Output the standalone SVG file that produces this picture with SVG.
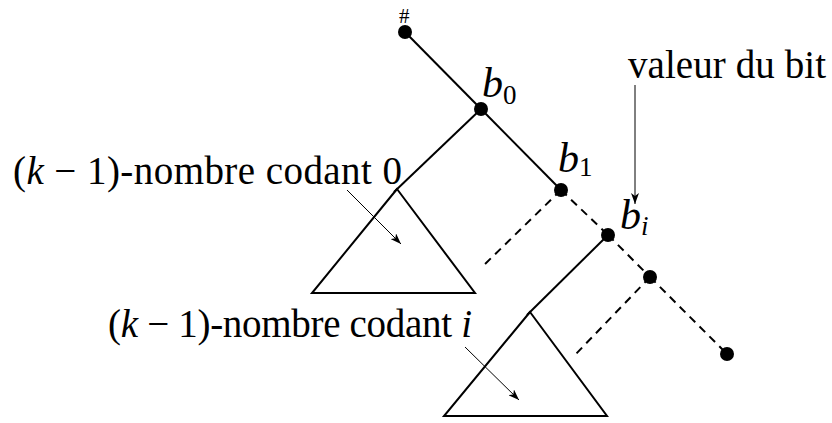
<svg xmlns="http://www.w3.org/2000/svg" width="832" height="423" viewBox="0 0 832 423">
<style>
.e{stroke:#000;stroke-width:2;fill:none}
.d{stroke:#000;stroke-width:2;fill:none;stroke-dasharray:8 6}
.a{stroke:#000;stroke-width:1;fill:none;marker-end:url(#ah)}
.n{fill:#000}
.t{font-family:"Liberation Serif",serif;font-size:39px;fill:#000}
.m{font-style:italic}
.s{font-size:27px}
</style>
<defs>
<marker id="ah" markerUnits="userSpaceOnUse" markerWidth="12" markerHeight="8" refX="11" refY="4" orient="auto">
<path d="M0,0 L11,4 L0,8 L3,4 z" fill="#000"/>
</marker>
</defs>
<rect width="832" height="423" fill="#fff"/>
<g id="connectors">
<line class="e" x1="405" y1="32" x2="481" y2="109"/>
<line class="e" x1="481" y1="109" x2="561" y2="190"/>
<line class="e" x1="481" y1="109" x2="394" y2="192"/>
<line class="d" x1="561" y1="190" x2="608" y2="235"/>
<line class="d" x1="608" y1="235" x2="650" y2="277"/>
<line class="d" x1="650" y1="277" x2="727" y2="354"/>
<line class="d" x1="561" y1="190" x2="484" y2="265"/>
<line class="e" x1="608" y1="235" x2="527" y2="315"/>
<line class="d" x1="650" y1="277" x2="575" y2="355"/>
<line class="a" x1="635" y1="85" x2="635" y2="204"/>
<line class="a" x1="347" y1="190" x2="401" y2="244"/>
<line class="a" x1="465" y1="347" x2="519" y2="400"/>
</g>
<g id="tri0"><path class="e" d="M397,189 L312,293 L475,293 Z"/></g>
<g id="tri1"><path class="e" d="M530,312 L444,416 L607,416 Z"/></g>
<g id="root"><circle class="n" cx="405" cy="32" r="7"/><text class="t" x="399" y="23" style="font-size:21px">#</text></g>
<g id="b0"><circle class="n" cx="481" cy="109" r="7"/><text class="t" x="482" y="97" style="font-size:42px"><tspan class="m">b</tspan><tspan class="s" dy="7">0</tspan></text></g>
<g id="b1"><circle class="n" cx="561" cy="190" r="7"/><text class="t" x="558" y="172" style="font-size:42px"><tspan class="m">b</tspan><tspan class="s" dy="4">1</tspan></text></g>
<g id="bi"><circle class="n" cx="608" cy="235" r="7"/><text class="t" x="620" y="229" style="font-size:42px"><tspan class="m">b</tspan><tspan class="s m" dy="6">i</tspan></text></g>
<g id="n4"><circle class="n" cx="650" cy="277" r="7"/></g>
<g id="n5"><circle class="n" cx="727" cy="354" r="7"/></g>
<g id="lbl-bit"><text class="t" x="628" y="78" textLength="198">valeur du bit</text></g>
<g id="lbl-0"><text class="t" x="13" y="184" textLength="389">(<tspan class="m">k</tspan> − 1)-nombre codant 0</text></g>
<g id="lbl-i"><text class="t" x="108" y="337" textLength="364">(<tspan class="m">k</tspan> − 1)-nombre codant <tspan class="m">i</tspan></text></g>
</svg>
